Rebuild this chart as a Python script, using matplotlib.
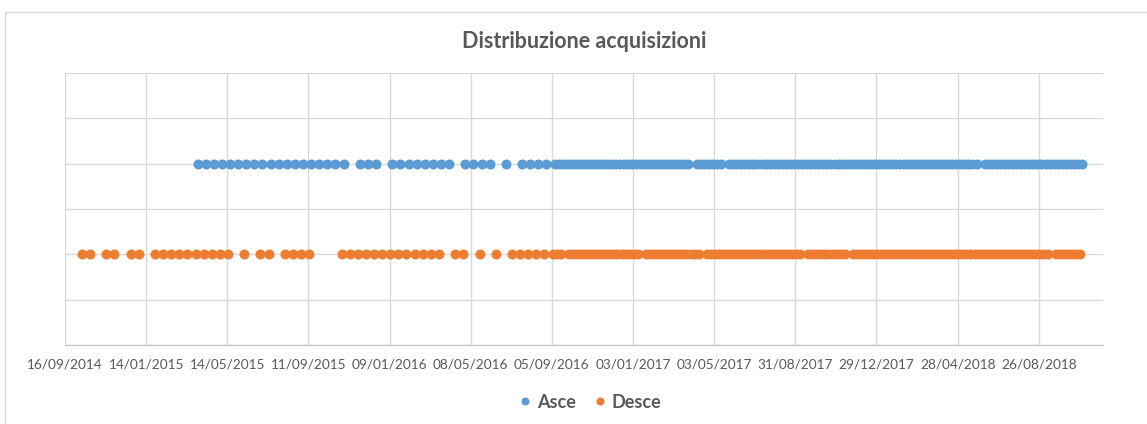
import matplotlib
matplotlib.use('Agg')
import matplotlib.pyplot as plt
import matplotlib.dates as mdates
from matplotlib.patches import Rectangle
import pandas

# acquisition dates as Excel serial numbers (days since 1899-12-30)
asce_days = [
    42094, 42106, 42118, 42130, 42142, 42154, 42166, 42178, 42190, 42202,
    42214, 42226, 42238, 42250, 42262, 42274, 42286, 42298, 42310,
    42334, 42346, 42358,
    42382, 42394, 42406, 42418, 42430, 42442, 42454, 42466,
    42490, 42502, 42514, 42526,
    42550,
    42574, 42586, 42598, 42610, 42622,
    42628, 42634, 42640, 42646, 42652, 42658, 42664, 42670, 42676, 42682,
    42688, 42694, 42700, 42706, 42712, 42718, 42724, 42730, 42736, 42742,
    42748, 42754, 42760, 42766, 42772, 42778, 42784, 42790, 42796, 42802,
    42808, 42814, 42820, 42832, 42838, 42844, 42850, 42856, 42862,
    42868, 42880, 42886, 42892, 42898, 42904, 42910, 42916, 42922,
    42928, 42934, 42940, 42946, 42952, 42958, 42964, 42970, 42976, 42982,
    42988, 42994, 43000, 43006, 43012, 43018, 43024, 43030, 43036, 43042,
    43048, 43054, 43060, 43066, 43072, 43078, 43084, 43090, 43096, 43102,
    43108, 43114, 43120, 43126, 43132, 43138, 43144, 43150, 43156, 43162,
    43168, 43174, 43180, 43186, 43192, 43198, 43204, 43210, 43216, 43222,
    43228, 43234, 43240, 43246, 43258, 43264, 43270, 43276, 43282,
    43288, 43294, 43300, 43306, 43312, 43318, 43324, 43330, 43336, 43342,
    43348, 43354, 43360, 43366, 43372, 43378, 43384, 43390, 43396, 43402,
]

desce_days = [
    41923, 41935, 41959, 41971, 41995, 42007,
    42031, 42043, 42055, 42067, 42079, 42091, 42103, 42115, 42127, 42139,
    42163, 42187, 42199,
    42223, 42235, 42247, 42259,
    42307, 42319, 42331, 42343, 42355, 42367, 42379, 42391, 42403, 42415,
    42427, 42439, 42451,
    42475, 42487, 42511, 42535,
    42559, 42571, 42583, 42595, 42607, 42619,
    42625, 42631, 42643, 42649, 42655, 42661, 42667, 42673, 42679,
    42685, 42691, 42697, 42703, 42709, 42715, 42721, 42727, 42733, 42739,
    42745, 42757, 42763, 42769, 42775, 42781, 42787, 42793, 42799,
    42805, 42811, 42817, 42823, 42829, 42835, 42847, 42853, 42859,
    42865, 42871, 42877, 42883, 42889, 42895, 42901, 42907, 42913, 42919,
    42925, 42931, 42937, 42943, 42949, 42955, 42961, 42967, 42973, 42979,
    42985, 42997, 43003, 43009, 43015, 43021, 43027, 43033, 43039,
    43045, 43051, 43063, 43069, 43075, 43081, 43087, 43093, 43099,
    43105, 43111, 43117, 43123, 43129, 43135, 43141, 43147, 43153, 43159,
    43165, 43171, 43177, 43183, 43189, 43195, 43201, 43207, 43213, 43219,
    43225, 43231, 43237, 43243, 43249, 43255, 43261, 43267, 43273, 43279,
    43285, 43291, 43297, 43303, 43309, 43315, 43321, 43327, 43333, 43339,
    43345, 43351, 43363, 43369, 43375, 43381, 43387, 43393, 43399,
]

asce_level = 2
desce_level = 1

tick_labels = ['16/09/2014', '14/01/2015', '14/05/2015', '11/09/2015',
               '09/01/2016', '08/05/2016', '05/09/2016', '03/01/2017',
               '03/05/2017', '31/08/2017', '29/12/2017', '28/04/2018',
               '26/08/2018']
x_min, x_max = '2014-09-16', '2018-11-29'


def to_date(serials):
    return pandas.to_datetime(serials, unit='D', origin='1899-12-30')


plt.rcParams['font.family'] = ['Lato', 'DejaVu Sans']
grey = '#595959'
grid = '#d9d9d9'

fig = plt.figure(figsize=(11.47, 4.24), dpi=100)
fig.patches.append(Rectangle((5 / 1147, -0.1), 1.2, 1 - 12 / 424 + 0.1,
                             transform=fig.transFigure, fill=False,
                             edgecolor=grid, linewidth=1))
ax = fig.add_axes([65 / 1147, 1 - 345 / 424, (1103 - 65) / 1147, (345 - 73) / 424])

ax.plot(to_date(asce_days), [asce_level] * len(asce_days), 'o', color='#5B9BD5',
        markersize=7.2, markeredgewidth=0, label='Asce', zorder=3)
ax.plot(to_date(desce_days), [desce_level] * len(desce_days), 'o', color='#ED7D31',
        markersize=7.2, markeredgewidth=0, label='Desce', zorder=3)

ax.set_xlim(pandas.Timestamp(x_min), pandas.Timestamp(x_max))
ax.set_ylim(0, 3)
ax.set_xticks(pandas.to_datetime(tick_labels, format='%d/%m/%Y'))
ax.xaxis.set_major_formatter(mdates.DateFormatter('%d/%m/%Y'))
ax.set_yticks([0, 0.5, 1, 1.5, 2, 2.5, 3])
ax.set_yticklabels([])
ax.tick_params(length=0, labelsize=9.8, labelcolor=grey, pad=10)
ax.grid(True, color=grid, linewidth=1)
ax.set_axisbelow(True)
for side in ['top', 'right', 'left']:
    ax.spines[side].set_visible(False)
ax.spines['bottom'].set_color('#bfbfbf')

fig.text(584 / 1147, 1 - 41 / 424, 'Distribuzione acquisizioni', ha='center',
         va='center', fontsize=15.5, fontweight='bold', color=grey)
fig.legend(loc='center', bbox_to_anchor=(590 / 1147, 1 - 402 / 424), ncol=2,
           frameon=False, handlelength=0.7, handletextpad=0.3,
           columnspacing=1.0, markerscale=0.8,
           prop={'weight': 'bold', 'size': 13}, labelcolor=grey)

plt.savefig('out.png')
plt.close(fig)
